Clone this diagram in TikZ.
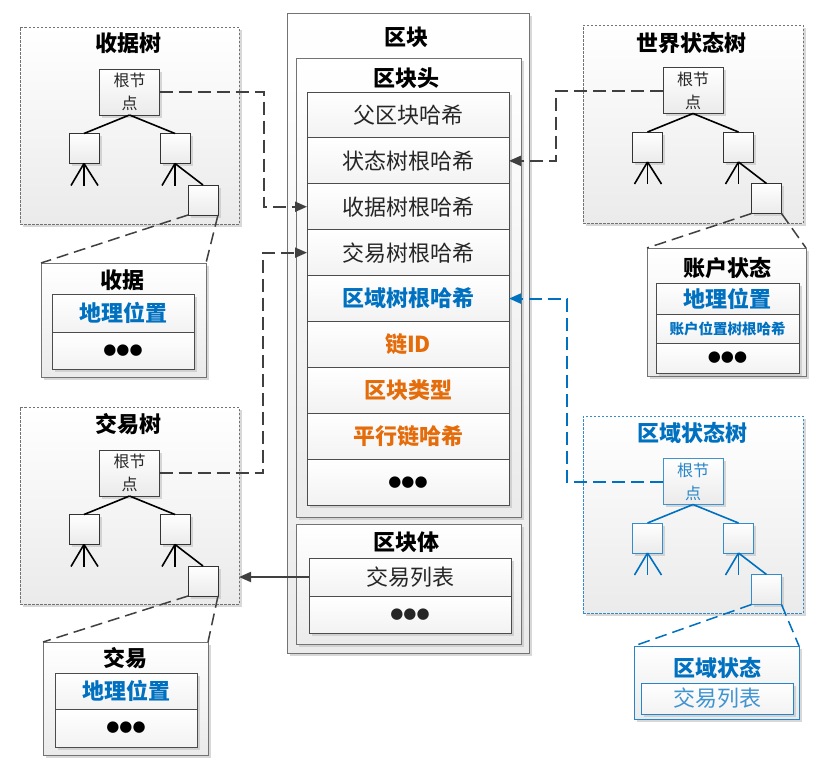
\documentclass[tikz,border=0pt]{standalone}
\usepackage{fontspec}
\setmainfont{Noto Sans CJK SC}
\newfontfamily\dejavu{DejaVu Sans}
\usetikzlibrary{arrows.meta,shadows}
\definecolor{bl}{HTML}{0070C0}
\definecolor{og}{HTML}{E46C0A}
\definecolor{ln}{HTML}{404040}
\definecolor{txt}{HTML}{262626}
\newcommand\rowfont{\fontsize{22}{26}\selectfont}
\newcommand\ttlfont{\fontsize{22}{26}\selectfont\bfseries}
\newcommand\rootfont{\fontsize{16}{23}\selectfont}
\newcommand\mydots{{\dejavu\fontsize{15}{15}\selectfont ●●●}}
\tikzset{
  every node/.style={inner sep=0pt,outer sep=0pt},
  shd/.style={drop shadow={shadow xshift=2.5pt,shadow yshift=-2.5pt,fill=black!25,opacity=0.6}},
  grad/.style={top color=white,bottom color=black!8},
  solidbox/.style={draw=black!55,line width=0.9pt,grad,shd},
  treebox/.style={draw=black!55,line width=0.8pt,dash pattern=on 2.5pt off 1.5pt,grad,shd},
  cell/.style={draw=black!70,line width=0.9pt,top color=white,bottom color=black!5,shd,text=txt,font=\rowfont},
  ttl/.style={font=\ttlfont,text=black},
  tn/.style={draw=black!70,line width=0.8pt,grad,shd,minimum width=30pt,minimum height=30pt},
  rootn/.style={draw=black!70,line width=0.8pt,grad,shd,minimum width=60pt,minimum height=46pt,align=center,font=\rootfont,text=txt},
  tline/.style={line width=1.6pt,draw=ln},
  conn/.style={line width=2pt,draw=ln,dash pattern=on 13pt off 6pt},
  zoomln/.style={line width=1.5pt,draw=ln,dash pattern=on 12pt off 6pt},
  tip/.style={-{Triangle[length=12pt,width=10pt]}},
}
\newcommand\mytree[4]{%
  \node[rootn,draw=#4!75,text=#4!85] (#1r) at (#2,#3) {根节\\点};
  \node[tn,draw=#4!80] (#1a) at (#2-45.5,#3+56.5) {};
  \node[tn,draw=#4!80] (#1b) at (#2+45.5,#3+56.5) {};
  \node[tn,draw=#4!80] (#1c) at (#2+73.5,#3+108) {};
  \draw[tline,draw=#4] (#1r.south) -- (#1a.north);
  \draw[tline,draw=#4] (#1r.south) -- (#1b.north);
  \draw[tline,draw=#4] (#1a.south) -- ++(-13,22);
  \draw[tline,draw=#4] (#1a.south) -- ++(0,22);
  \draw[tline,draw=#4] (#1a.south) -- ++(14,22);
  \draw[tline,draw=#4] (#1b.south) -- ++(-13,22);
  \draw[tline,draw=#4] (#1b.south) -- ++(0,22);
  \draw[tline,draw=#4] (#1b.south) -- (#1c.north);
}
\begin{document}
\begin{tikzpicture}[x=1pt,y=-1pt]
\useasboundingbox (0,0) rectangle (816,766);
\fill[white] (0,0) rectangle (816,766);

% ---------- centre: block ----------
\node[solidbox,minimum width=242,minimum height=640] (blk) at (408,333) {};
\node[ttl] (blkt) at (406,37) {区块};
\node[solidbox,minimum width=225,minimum height=459] (hdr) at (408.5,287.5) {};
\node[ttl] (hdrt) at (406,78) {区块头};
\tikzset{hrow/.style={cell,minimum width=202,minimum height=45.9}}
\node[hrow] (h1) at (408,114.95) {父区块哈希};
\node[hrow] (h2) at (408,160.85) {状态树根哈希};
\node[hrow] (h3) at (408,206.75) {收据树根哈希};
\node[hrow] (h4) at (408,252.65) {交易树根哈希};
\node[hrow,text=bl,font=\ttlfont] (h5) at (408,298.55) {区域树根哈希};
\node[hrow,text=og,font=\ttlfont] (h6) at (408,344.45) {链ID};
\node[hrow,text=og,font=\ttlfont] (h7) at (408,390.35) {区块类型};
\node[hrow,text=og,font=\ttlfont] (h8) at (408,436.25) {平行链哈希};
\node[hrow,text=black] (h9) at (408,482.15) {\mydots};

\node[solidbox,minimum width=225,minimum height=120] (body) at (408.5,584) {};
\node[ttl] (bodyt) at (406,542) {区块体};
\node[cell,minimum width=202,minimum height=38] (b1) at (410,577) {交易列表};
\node[cell,minimum width=202,minimum height=37] (b2) at (410,614.5) {\mydots};

% ---------- left: receipt tree ----------
\node[treebox,minimum width=219,minimum height=197] (rt) at (129.5,125.5) {};
\node[ttl] (rtt) at (128,43) {收据树};
\mytree{r}{129.5}{92}{black}
\node[solidbox,minimum width=165,minimum height=114] (rd) at (123.5,320) {};
\node[ttl] (rdt) at (122,280) {收据};
\node[cell,minimum width=142,minimum height=38,text=bl,font=\ttlfont] (rd1) at (123,313) {地理位置};
\node[cell,minimum width=142,minimum height=37,text=black] (rd2) at (123,350.5) {\mydots};
\draw[zoomln] (rc.south west) -- (rd.north west);
\draw[zoomln] (rc.south east) -- (rd.north east);

% ---------- left: transaction tree ----------
\node[treebox,minimum width=219,minimum height=197] (tt) at (129.5,505.5) {};
\node[ttl] (ttt) at (128,424) {交易树};
\mytree{t}{129.5}{473}{black}
\node[solidbox,minimum width=165,minimum height=113] (td) at (125.5,698.5) {};
\node[ttl] (tdt) at (125,658) {交易};
\node[cell,minimum width=142,minimum height=36,text=bl,font=\ttlfont] (td1) at (126,691) {地理位置};
\node[cell,minimum width=142,minimum height=38,text=black] (td2) at (126,728) {\mydots};
\draw[zoomln] (tc.south west) -- (td.north west);
\draw[zoomln] (tc.south east) -- (td.north east);

% ---------- right: world state tree ----------
\node[treebox,minimum width=220,minimum height=198] (wt) at (693,124) {};
\node[ttl] (wtt) at (691,43) {世界状态树};
\mytree{w}{693}{90.5}{black}
\node[solidbox,minimum width=159,minimum height=128] (wd) at (726.5,312) {};
\node[ttl] (wdt) at (727,268) {账户状态};
\node[cell,minimum width=143,minimum height=31,text=bl,font=\ttlfont] (wd1) at (727.5,298.5) {地理位置};
\node[cell,minimum width=143,minimum height=29,text=bl,font=\fontsize{14.5}{16}\selectfont\bfseries] (wd2) at (727.5,328.5) {账户位置树根哈希};
\node[cell,minimum width=143,minimum height=30,text=black] (wd3) at (727.5,358) {\mydots};
\draw[zoomln] (wc.south west) -- (wd.north west);
\draw[zoomln] (wc.south east) -- (wd.north east);

% ---------- right: region state tree ----------
\node[treebox,draw=bl!80,minimum width=220,minimum height=197] (zt) at (693,514.5) {};
\node[ttl,text=bl] (ztt) at (692,433) {区域状态树};
\mytree{z}{693}{481.5}{bl}
\node[solidbox,draw=bl!85,minimum width=165,minimum height=73] (zd) at (716.5,682.5) {};
\node[ttl,text=bl] (zdt) at (717,668) {区域状态};
\node[cell,draw=bl!85,minimum width=152,minimum height=31,text=bl!75] (zd1) at (717,698.5) {交易列表};
\draw[zoomln,draw=bl] (zc.south west) -- (zd.north west);
\draw[zoomln,draw=bl] (zc.south east) -- (zd.north east);

% ---------- connectors ----------
\draw[conn,tip] (rr.east) -- (264,92) |- (h3.west);
\draw[conn,tip] (tr.east) -- (263,473) |- (h4.west);
\draw[conn,tip] (wr.west) -- (556,90.5) |- (h2.east);
\draw[conn,tip,draw=bl] (zr.west) -- (567,481.5) |- (h5.east);
\draw[line width=1.8pt,draw=ln,tip] (b1.west) -- (tt.east |- b1.west);
\end{tikzpicture}
\end{document}
